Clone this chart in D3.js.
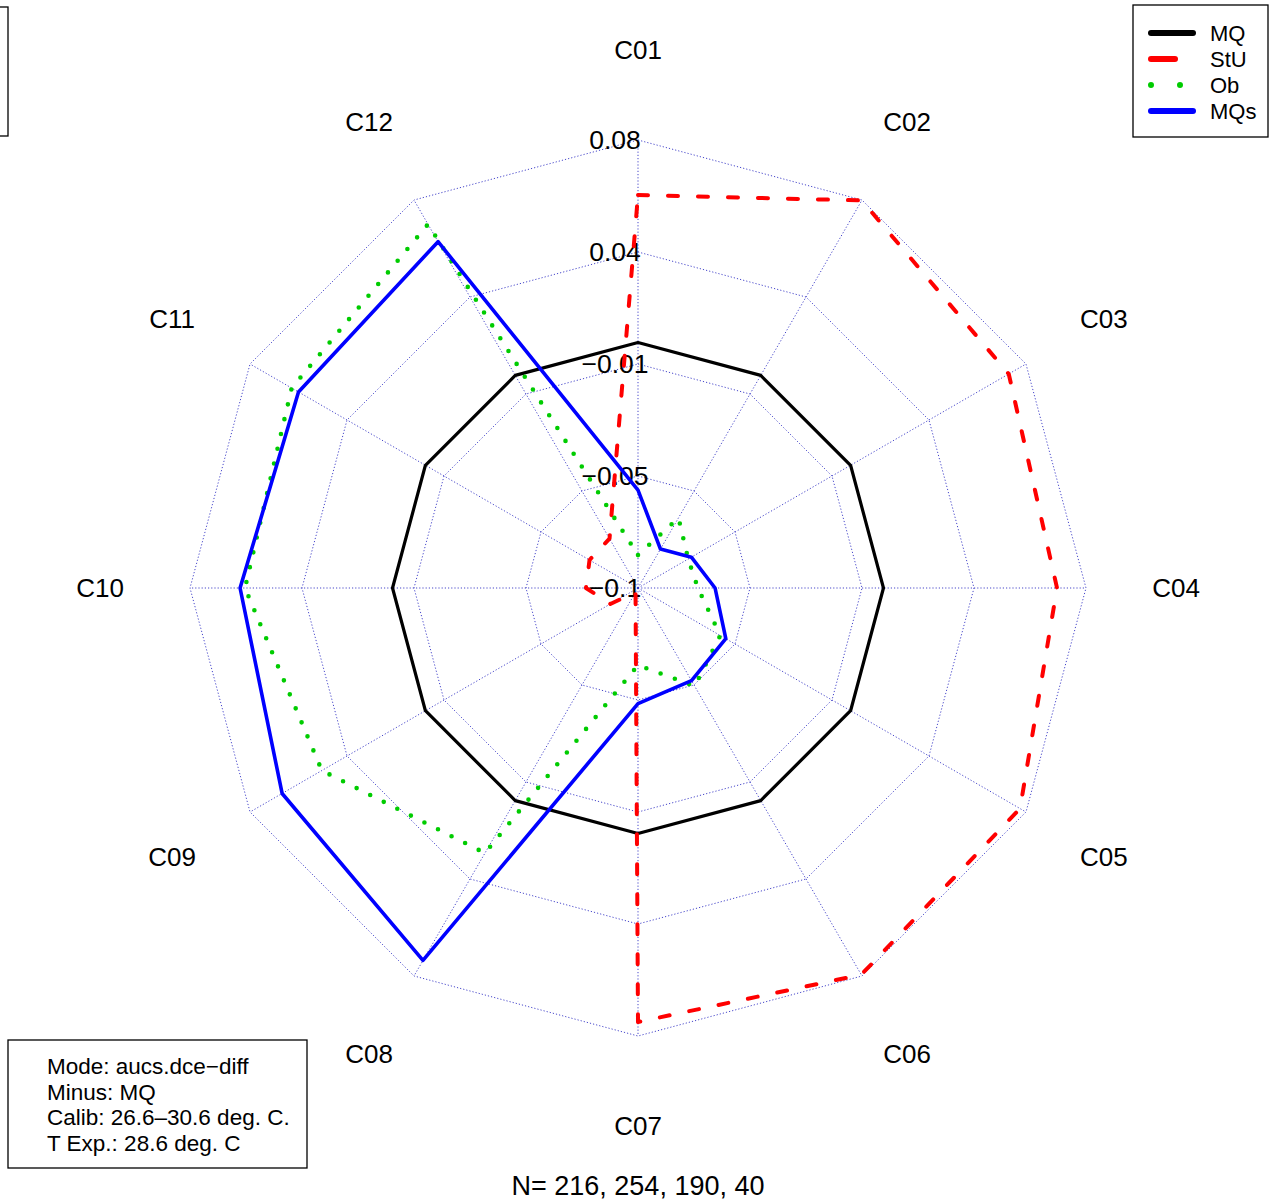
<!DOCTYPE html>
<html>
<head>
<meta charset="utf-8">
<script src="https://cdn.jsdelivr.net/npm/d3@7"></script>
<style>
  html, body { margin: 0; padding: 0; background: #fff; }
  svg { display: block; font-family: "Liberation Sans", Arial, Helvetica, sans-serif; }
</style>
</head>
<body>
<svg id="chart" width="1281" height="1204"></svg>
<script>
// Spokes of the radar, clockwise from the top
const categories = ["C01", "C02", "C03", "C04", "C05", "C06", "C07", "C08", "C09", "C10", "C11", "C12"];

// Differences of AUC (dce) relative to MQ, one value per spoke
const mqValues  = [0, 0, 0, 0, 0, 0, 0, 0, 0, 0, 0, 0];
const stuValues = [0.0601, 0.0823, 0.0744, 0.0707, 0.0797, 0.0819, 0.0768, -0.0980, -0.0870, -0.0788, -0.0772, -0.0768];
const obValues  = [-0.0866, -0.0670, -0.0764, -0.0756, -0.0613, -0.0538, -0.0686, 0.0247, 0.0487, 0.0601, 0.0629, 0.0711];
const mqsValues = [-0.0601, -0.0817, -0.0749, -0.0686, -0.0587, -0.0564, -0.0529, 0.0752, 0.0674, 0.0621, 0.0597, 0.0629];

const seriesNames = ["MQ", "StU", "Ob", "MQs"];

// Radial range of the plot and the labels of its grid rings (centre outwards)
const radialLimits = [-0.1, 0.0825];
const ringLabels = ["\u22120.1", "\u22120.05", "\u22120.01", "0.04", "0.08"];

// Annotation texts
const infoLines = ["Mode: aucs.dce\u2212diff", "Minus: MQ", "Calib: 26.6\u201330.6 deg. C.", "T Exp.: 28.6 deg. C"];
const footnote = "N= 216, 254, 190, 40";

const series = [
  { name: seriesNames[0], values: mqValues,  color: "#000000", width: 3.2, dash: null },
  { name: seriesNames[1], values: stuValues, color: "#ff0000", width: 4,   dash: "10,20" },
  { name: seriesNames[2], values: obValues,  color: "#00cc00", width: 4.6, dash: "0,15.2" },
  { name: seriesNames[3], values: mqsValues, color: "#0000ff", width: 3.6, dash: null }
];

const svg = d3.select("#chart");
const cx = 638, cy = 588, R = 448, labelR = 538;

const r = d3.scaleLinear().domain(radialLimits).range([0, R]);
const angle = d3.scalePoint().domain(categories).range([0, 2 * Math.PI * (categories.length - 1) / categories.length]);

const g = svg.append("g").attr("transform", `translate(${cx},${cy})`);

// Grid: polygonal rings at evenly spaced radial values, plus spokes
const ringValues = ringLabels.map((_, i) => radialLimits[0] + i * (radialLimits[1] - radialLimits[0]) / (ringLabels.length - 1));
const gridStyle = s => s.attr("fill", "none").attr("stroke", "#3434c4").attr("stroke-width", 1)
  .attr("stroke-dasharray", "1.2,2").attr("stroke-opacity", 0.9);

const ringLine = d3.lineRadial().angle(d => angle(d)).curve(d3.curveLinearClosed);
ringValues.slice(1).forEach(v => {
  g.append("path").attr("d", ringLine.radius(() => r(v))(categories)).call(gridStyle);
});
categories.forEach(c => {
  const a = angle(c);
  g.append("line").attr("x1", 0).attr("y1", 0)
    .attr("x2", R * Math.sin(a)).attr("y2", -R * Math.cos(a)).call(gridStyle);
});

// Spoke labels
g.selectAll("text.cat").data(categories).join("text")
  .attr("class", "cat")
  .attr("x", d => labelR * Math.sin(angle(d)))
  .attr("y", d => -labelR * Math.cos(angle(d)))
  .attr("dy", "0.35em")
  .attr("text-anchor", "middle")
  .attr("font-size", 26)
  .text(d => d);

// Ring labels along the top spoke
g.selectAll("text.ring").data(ringValues).join("text")
  .attr("class", "ring")
  .attr("x", -23)
  .attr("y", d => -r(d))
  .attr("dy", "0.35em")
  .attr("text-anchor", "middle")
  .attr("font-size", 26.5)
  .text((d, i) => ringLabels[i]);

// Series polygons
const radial = d3.lineRadial()
  .angle((d, i) => angle(categories[i]))
  .radius(d => r(d))
  .curve(d3.curveLinearClosed);

series.forEach(s => {
  g.append("path")
    .attr("d", radial(s.values))
    .attr("fill", "none")
    .attr("stroke", s.color)
    .attr("stroke-width", s.width)
    .attr("stroke-linejoin", "round")
    .attr("stroke-linecap", "round")
    .attr("stroke-dasharray", s.dash);
});

// Legend
const legend = svg.append("g").attr("transform", "translate(1133,5)");
legend.append("rect").attr("x", 0).attr("y", 0).attr("width", 135).attr("height", 132)
  .attr("fill", "#fff").attr("stroke", "#000").attr("stroke-width", 1.3);
const legendSamples = [
  { x2: 60, dash: null },
  { x2: 42, dash: null },
  { x2: 48, dash: "0,29" },
  { x2: 60, dash: null }
];
series.forEach((s, i) => {
  const y = 28 + i * 26;
  const smp = legendSamples[i];
  legend.append("line")
    .attr("x1", 18).attr("x2", smp.x2).attr("y1", y).attr("y2", y)
    .attr("stroke", s.color).attr("stroke-width", 6)
    .attr("stroke-linecap", "round")
    .attr("stroke-dasharray", smp.dash);
  legend.append("text").attr("x", 77).attr("y", y).attr("dy", "0.35em")
    .attr("font-size", 22).text(s.name);
});

// Partially visible box at the top-left corner
svg.append("rect").attr("x", -60).attr("y", 7).attr("width", 68).attr("height", 129)
  .attr("fill", "none").attr("stroke", "#000").attr("stroke-width", 1.3);

// Info box
const info = svg.append("g").attr("transform", "translate(8,1040)");
info.append("rect").attr("x", 0).attr("y", 0).attr("width", 299).attr("height", 128)
  .attr("fill", "#fff").attr("stroke", "#000").attr("stroke-width", 1.3);
info.selectAll("text").data(infoLines).join("text")
  .attr("x", 39)
  .attr("y", (d, i) => 26 + i * 25.7)
  .attr("dy", "0.35em")
  .attr("font-size", 22.5)
  .text(d => d);

// Footnote with sample sizes
svg.append("text").attr("x", 638).attr("y", 1186).attr("dy", "0.35em")
  .attr("text-anchor", "middle").attr("font-size", 27).text(footnote);
</script>
</body>
</html>
